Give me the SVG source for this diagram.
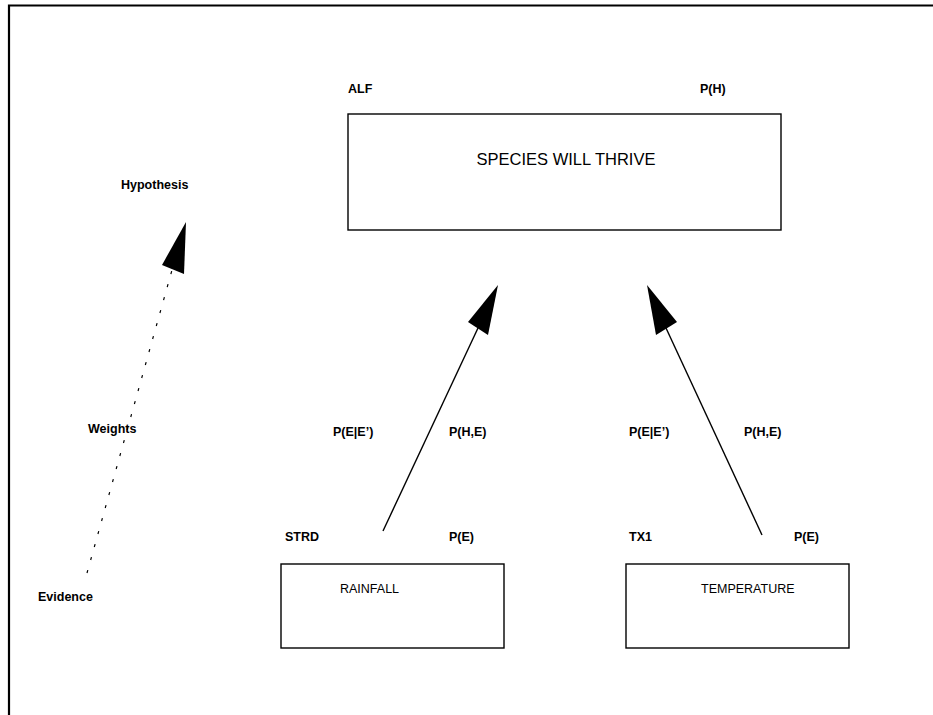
<svg xmlns="http://www.w3.org/2000/svg" width="933" height="715" viewBox="0 0 933 715">
<style>
.b{font-family:"Liberation Sans",Arial,sans-serif;font-size:12.5px;font-weight:bold;fill:#000}
.n{font-family:"Liberation Sans",Arial,sans-serif;font-size:12.5px;fill:#000}
.box{fill:#fff;stroke:#000;stroke-width:1.4}
.ln{stroke:#000;stroke-width:1.4;fill:none}
.hd{fill:#000;stroke:none}
</style>
<rect width="933" height="715" fill="#fff"/>
<path d="M9,715 V5.5 H933" fill="none" stroke="#000" stroke-width="2.2"/>
<g id="node-species">
<rect class="box" x="348" y="114" width="433" height="116"/>
<text x="566" y="165" text-anchor="middle" font-family="Liberation Sans,Arial,sans-serif" font-size="16.5">SPECIES WILL THRIVE</text>
<text class="b" x="348" y="93">ALF</text>
<text class="b" x="700" y="93">P(H)</text>
</g>
<g id="node-rainfall">
<rect class="box" x="281" y="564" width="223" height="84"/>
<text class="n" x="340" y="593">RAINFALL</text>
<text class="b" x="285" y="541">STRD</text>
<text class="b" x="449" y="541">P(E)</text>
</g>
<g id="node-temperature">
<rect class="box" x="626" y="564" width="223" height="84"/>
<text class="n" x="701" y="593">TEMPERATURE</text>
<text class="b" x="629" y="541">TX1</text>
<text class="b" x="794" y="541">P(E)</text>
</g>
<g id="legend">
<text class="b" x="121" y="189">Hypothesis</text>
<text class="b" x="88" y="433">Weights</text>
<text class="b" x="38" y="601">Evidence</text>
</g>
<g id="connectors">
<line class="ln" x1="383" y1="531" x2="478" y2="328"/>
<polygon class="hd" points="498,285 468,322 488,335"/>
<line class="ln" x1="762" y1="535" x2="666" y2="328"/>
<polygon class="hd" points="647,285 656,335 677,322"/>
<line x1="87" y1="573" x2="172" y2="270" stroke="#000" stroke-width="1.2" stroke-dasharray="3 10.5"/>
<polygon class="hd" points="186,222 162,265 184,274"/>
<text class="b" x="333" y="436">P(E|E’)</text>
<text class="b" x="449" y="436">P(H,E)</text>
<text class="b" x="629" y="436">P(E|E’)</text>
<text class="b" x="744" y="436">P(H,E)</text>
</g>
</svg>
